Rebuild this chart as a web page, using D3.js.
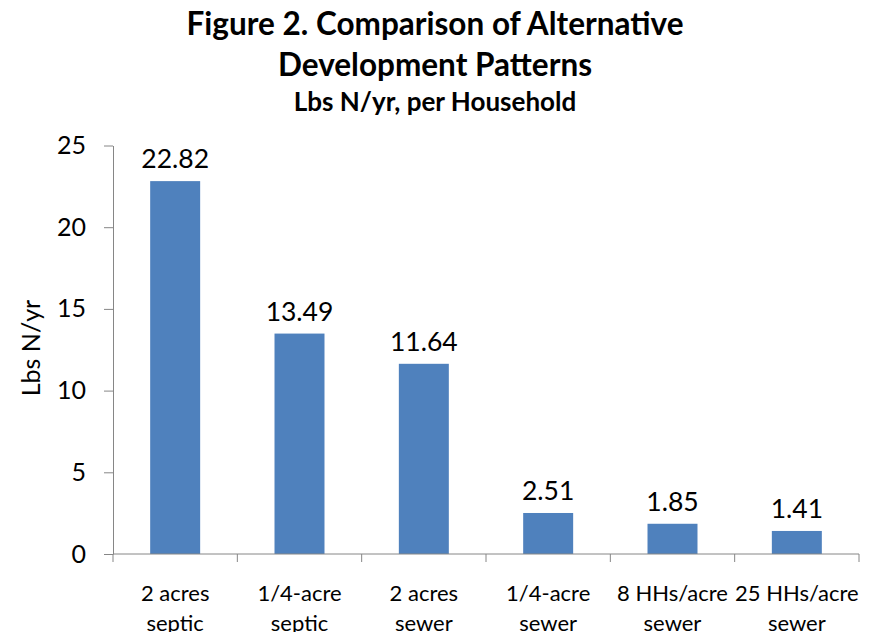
<!DOCTYPE html>
<html>
<head>
<meta charset="utf-8">
<script src="https://cdn.jsdelivr.net/npm/d3@7/dist/d3.min.js"></script>
<style>
  html, body { margin: 0; padding: 0; background: #fff; }
  svg { display: block; }
  text { font-family: Lato, "Open Sans", sans-serif; fill: #000; }
</style>
</head>
<body>
<svg id="chart" width="870" height="632"></svg>
<script>
// ---- data ----
const categories = [
  ["2 acres", "septic"],
  ["1/4-acre", "septic"],
  ["2 acres", "sewer"],
  ["1/4-acre", "sewer"],
  ["8 HHs/acre", "sewer"],
  ["25 HHs/acre", "sewer"]
];
const values = [22.82, 13.49, 11.64, 2.51, 1.85, 1.41];
const valueLabels = ["22.82", "13.49", "11.64", "2.51", "1.85", "1.41"];
const yTicks = [0, 5, 10, 15, 20, 25];
const titleLines = ["Figure 2. Comparison of Alternative", "Development Patterns"];
const subtitle = "Lbs N/yr, per Household";
const yTitle = "Lbs N/yr";

// ---- layout ----
const svg = d3.select("#chart");
const mLeft = 113, mRight = 859, mTop = 145.5, mBottom = 554;
const axisColor = "#868686";
const barColor = "#4F81BD";

const keys = categories.map((c, i) => i);
const p = 0.598;
const x = d3.scaleBand().domain(keys).range([mLeft, mRight]).paddingInner(p).paddingOuter(p / 2);
const y = d3.scaleLinear().domain([0, 25]).range([mBottom, mTop]);

// title
svg.append("text").attr("x", 435).attr("y", 35).attr("text-anchor", "middle")
  .style("font-weight", "bold").style("font-size", "31.5px").text(titleLines[0]);
svg.append("text").attr("x", 435).attr("y", 76).attr("text-anchor", "middle")
  .style("font-weight", "bold").style("font-size", "31.5px").text(titleLines[1]);
svg.append("text").attr("x", 435).attr("y", 111).attr("text-anchor", "middle")
  .style("font-weight", "bold").style("font-size", "26px").text(subtitle);

// bars
svg.append("g").selectAll("rect").data(values).join("rect")
  .attr("x", (d, i) => x(i))
  .attr("width", x.bandwidth())
  .attr("y", d => y(d))
  .attr("height", d => y(0) - y(d))
  .attr("fill", barColor);

// value labels
svg.append("g").selectAll("text").data(values).join("text")
  .attr("x", (d, i) => x(i) + x.bandwidth() / 2)
  .attr("y", d => y(d) - 13)
  .attr("text-anchor", "middle")
  .style("font-size", "26.5px")
  .text((d, i) => valueLabels[i]);

// y axis
const yAxis = svg.append("g").attr("transform", `translate(${mLeft},0)`)
  .call(d3.axisLeft(y).tickValues(yTicks).tickSize(9).tickPadding(18).tickSizeOuter(0));
yAxis.select(".domain").attr("stroke", axisColor);
yAxis.selectAll(".tick line").attr("stroke", axisColor);
yAxis.selectAll(".tick text").style("font-size", "25px").style("font-family", "Lato, sans-serif").attr("fill", "#000");

// x axis line + boundary ticks
const step = x.step();
const bounds = d3.range(categories.length + 1).map(i => x(0) - step * p / 2 + i * step);
svg.append("line").attr("x1", mLeft).attr("x2", mRight).attr("y1", y(0)).attr("y2", y(0))
  .attr("stroke", axisColor);
svg.append("g").selectAll("line").data(bounds).join("line")
  .attr("x1", d => d).attr("x2", d => d)
  .attr("y1", y(0)).attr("y2", y(0) + 8)
  .attr("stroke", axisColor);

// category labels
const catG = svg.append("g").selectAll("text").data(categories).join("text")
  .attr("text-anchor", "middle")
  .style("font-size", "22px");
catG.each(function(c, i) {
  const t = d3.select(this);
  const cx = x(i) + x.bandwidth() / 2;
  t.append("tspan").attr("x", cx).attr("y", 601).text(c[0]);
  t.append("tspan").attr("x", cx).attr("y", 631).text(c[1]);
});

// y title
svg.append("text")
  .attr("transform", "translate(40,348) rotate(-90)")
  .attr("text-anchor", "middle")
  .style("font-size", "25px")
  .text(yTitle);
</script>
</body>
</html>
